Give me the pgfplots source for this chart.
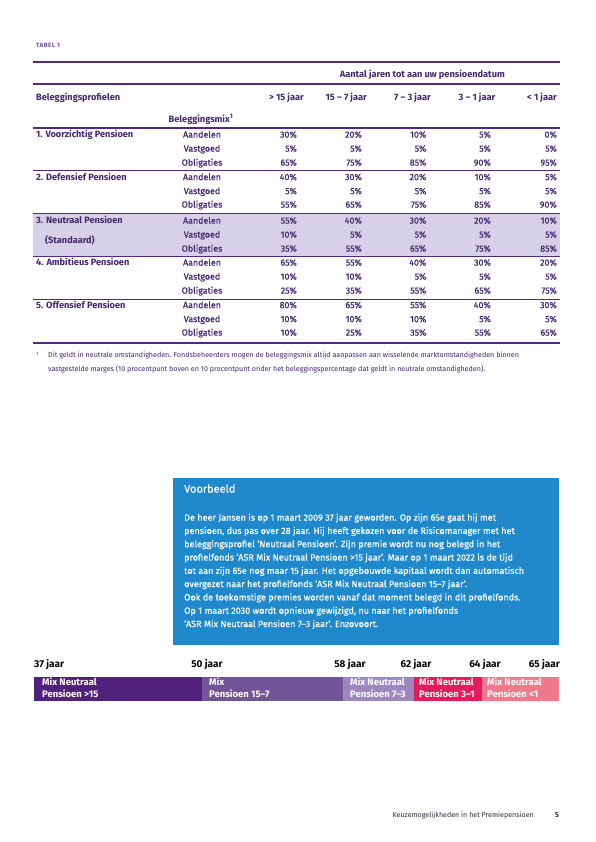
\documentclass[border=0pt]{standalone}
\usepackage{pgfplots}
\pgfplotsset{compat=1.18}
\usepackage{fontspec}
\setmainfont{Fira Sans}
\newfontfamily\medfont{Fira Sans}[FakeBold=0.45]
\definecolor{rulec}{HTML}{4F2A80}
\definecolor{tabtxt}{HTML}{43276F}
\definecolor{tabel}{HTML}{6E4B9E}
\definecolor{hilite}{HTML}{D6D1E8}
\definecolor{boxblue}{HTML}{1F89CB}
\definecolor{segA}{HTML}{52217B}
\definecolor{segB}{HTML}{725499}
\definecolor{segC}{HTML}{9C87BF}
\definecolor{segD}{HTML}{E6195B}
\definecolor{segE}{HTML}{F07A8B}
\definecolor{footc}{HTML}{2A2A3A}
\newcommand\fs[1]{\fontsize{#1}{#1}\selectfont}
\tikzset{
  tv/.style={inner sep=0pt,text=tabtxt,font=\medfont\fs{8.9}},
  th/.style={inner sep=0pt,text=tabtxt,font=\fs{9.2}\bfseries},
  bt/.style={inner sep=0pt,text=white,font=\medfont\fs{9.05},anchor=mid west},
  tl/.style={inner sep=0pt,text=black,font=\fs{10}\bfseries},
  sl/.style={inner sep=0pt,text=white,font=\fs{9.5}\bfseries,anchor=mid west},
  page/.style={x=1pt,y=-1pt,shift={(0pt,842pt)}},
}
\newcommand\mixrow[7]{%
  \node[tv,anchor=mid] at (202,#1) {#2};
  \node[tv,anchor=mid east] at (297,#1) {#3\%};
  \node[tv,anchor=mid east] at (362,#1) {#4\%};
  \node[tv,anchor=mid east] at (426.5,#1) {#5\%};
  \node[tv,anchor=mid east] at (491,#1) {#6\%};
  \node[tv,anchor=mid east] at (557,#1) {#7\%};
}
\begin{document}
\begin{tikzpicture}
\fill[white] (0,0) rectangle (595pt,842pt);
\begin{scope}[page]
\fill[hilite] (33,213) rectangle (560,256);
\fill[boxblue] (173,478) rectangle (559,645);
\end{scope}
\begin{axis}[at={(0pt,0pt)},anchor=south west,
  width=595pt,height=842pt,scale only axis,
  xmin=0,xmax=595,ymin=0,ymax=842,y dir=reverse,
  hide axis,clip=false,enlargelimits=false,
  xbar stacked,bar width=24]
% timeline bar: segment widths along the page (first one is the left offset)
\addplot[draw=none,fill=none] coordinates {(34,688.5)};
\addplot[draw=none,fill=segA] coordinates {(168,688.5)};
\addplot[draw=none,fill=segB] coordinates {(141,688.5)};
\addplot[draw=none,fill=segC] coordinates {(71,688.5)};
\addplot[draw=none,fill=segD] coordinates {(68,688.5)};
\addplot[draw=none,fill=segE] coordinates {(77,688.5)};
\end{axis}
\begin{scope}[page]
% ---- table
\node[inner sep=0pt,text=tabel,font=\fs{6.2}\bfseries,anchor=mid west] at (36,45) {\addfontfeature{LetterSpace=8}TABEL 1};
\draw[rulec,line width=1.6pt] (33,62) -- (560,62);
\draw[rulec,line width=1.4pt] (33,84) -- (560,84);
\draw[rulec,line width=2pt] (33,128) -- (560,128);
\draw[rulec,line width=0.8pt] (33,170.5) -- (560,170.5);
\draw[rulec,line width=0.8pt] (33,213) -- (560,213);
\draw[rulec,line width=0.8pt] (33,256) -- (560,256);
\draw[rulec,line width=0.8pt] (33,299) -- (560,299);
\draw[rulec,line width=2.4pt] (33,343) -- (560,343);

\node[th,anchor=mid east] at (505,75) {Aantal jaren tot aan uw pensioendatum};
\node[th,anchor=mid west] at (36,98) {Beleggingsprofielen};
\node[th,anchor=mid east] at (304,98) {> 15 jaar};
\node[th,anchor=mid east] at (367,98) {15 – 7 jaar};
\node[th,anchor=mid east] at (431,98) {7 – 3 jaar};
\node[th,anchor=mid east] at (495.5,98) {3 – 1 jaar};
\node[th,anchor=mid east] at (557,98) {< 1 jaar};
\node[th,anchor=mid] at (201,120) {Beleggingsmix\textsuperscript{1}};

\node[th,anchor=mid west] at (36,135) {1. Voorzichtig Pensioen};
\node[th,anchor=mid west] at (36,177.5) {2. Defensief Pensioen};
\node[th,anchor=mid west] at (36,221) {3. Neutraal Pensioen};
\node[th,anchor=mid west] at (45,241) {(Standaard)};
\node[th,anchor=mid west] at (36,263) {4. Ambitieus Pensioen};
\node[th,anchor=mid west] at (36,305.5) {5. Offensief Pensioen};

\mixrow{135}{Aandelen}{30}{20}{10}{5}{0}
\mixrow{149}{Vastgoed}{5}{5}{5}{5}{5}
\mixrow{163}{Obligaties}{65}{75}{85}{90}{95}
\mixrow{177.5}{Aandelen}{40}{30}{20}{10}{5}
\mixrow{191.5}{Vastgoed}{5}{5}{5}{5}{5}
\mixrow{205}{Obligaties}{55}{65}{75}{85}{90}
\mixrow{221}{Aandelen}{55}{40}{30}{20}{10}
\mixrow{235}{Vastgoed}{10}{5}{5}{5}{5}
\mixrow{249}{Obligaties}{35}{55}{65}{75}{85}
\mixrow{263}{Aandelen}{65}{55}{40}{30}{20}
\mixrow{277}{Vastgoed}{10}{10}{5}{5}{5}
\mixrow{291}{Obligaties}{25}{35}{55}{65}{75}
\mixrow{305.5}{Aandelen}{80}{65}{55}{40}{30}
\mixrow{319.5}{Vastgoed}{10}{10}{10}{5}{5}
\mixrow{333}{Obligaties}{10}{25}{35}{55}{65}

% ---- footnote
\node[inner sep=0pt,text=tabtxt,font=\fs{4.8},anchor=mid west] at (36,353) {1};
\node[inner sep=0pt,text=tabtxt,font=\fs{7.15},anchor=mid west] at (48,355) {Dit geldt in neutrale omstandigheden. Fondsbeheerders mogen de beleggingsmix altijd aanpassen aan wisselende marktomstandigheden binnen};
\node[inner sep=0pt,text=tabtxt,font=\fs{7.15},anchor=mid west] at (48,369) {vastgestelde marges (10 procentpunt boven en 10 procentpunt onder het beleggingspercentage dat geldt in neutrale omstandigheden).};

% ---- example box
\node[inner sep=0pt,text=white,font=\medfont\fs{11},anchor=mid west] at (184,490) {Voorbeeld};
\node[bt] at (184,518) {De heer Jansen is op 1 maart 2009 37 jaar geworden. Op zijn 65e gaat hij met};
\node[bt] at (184,531.3) {pensioen, dus pas over 28 jaar. Hij heeft gekozen voor de Risicomanager met het};
\node[bt] at (184,544.6) {beleggingsprofiel ‘Neutraal Pensioen’. Zijn premie wordt nu nog belegd in het};
\node[bt] at (184,557.9) {profielfonds ‘ASR Mix Neutraal Pensioen >15 jaar’. Maar op 1 maart 2022 is de tijd};
\node[bt] at (184,571.2) {tot aan zijn 65e nog maar 15 jaar. Het opgebouwde kapitaal wordt dan automatisch};
\node[bt] at (184,584.5) {overgezet naar het profielfonds ‘ASR Mix Neutraal Pensioen 15–7 jaar’.};
\node[bt] at (184,597.8) {Ook de toekomstige premies worden vanaf dat moment belegd in dit profielfonds.};
\node[bt] at (184,611.1) {Op 1 maart 2030 wordt opnieuw gewijzigd, nu naar het profielfonds};
\node[bt] at (184,624.4) {‘ASR Mix Neutraal Pensioen 7–3 jaar’. Enzovoort.};

% ---- timeline labels
\node[tl,anchor=mid west] at (34,665) {37 jaar};
\node[tl,anchor=mid] at (207,665) {50 jaar};
\node[tl,anchor=mid] at (350,665) {58 jaar};
\node[tl,anchor=mid] at (416,665) {62 jaar};
\node[tl,anchor=mid] at (485,665) {64 jaar};
\node[tl,anchor=mid east] at (560,665) {65 jaar};
\node[sl] at (42,683) {Mix Neutraal};
\node[sl] at (42,694.5) {Pensioen >15};
\node[sl] at (209,683) {Mix};
\node[sl] at (209,694.5) {Pensioen 15–7};
\node[sl] at (350,683) {Mix Neutraal};
\node[sl] at (350,694.5) {Pensioen 7–3};
\node[sl] at (419,683) {Mix Neutraal};
\node[sl] at (419,694.5) {Pensioen 3–1};
\node[sl] at (487,683) {Mix Neutraal};
\node[sl] at (487,694.5) {Pensioen <1};

% ---- footer
\node[inner sep=0pt,text=footc,font=\fs{7.1},anchor=mid east] at (534,815) {Keuzemogelijkheden in het Premiepensioen};
\node[inner sep=0pt,text=footc,font=\fs{7.1}\bfseries,anchor=mid east] at (559,815) {5};
\end{scope}
\end{tikzpicture}
\end{document}
